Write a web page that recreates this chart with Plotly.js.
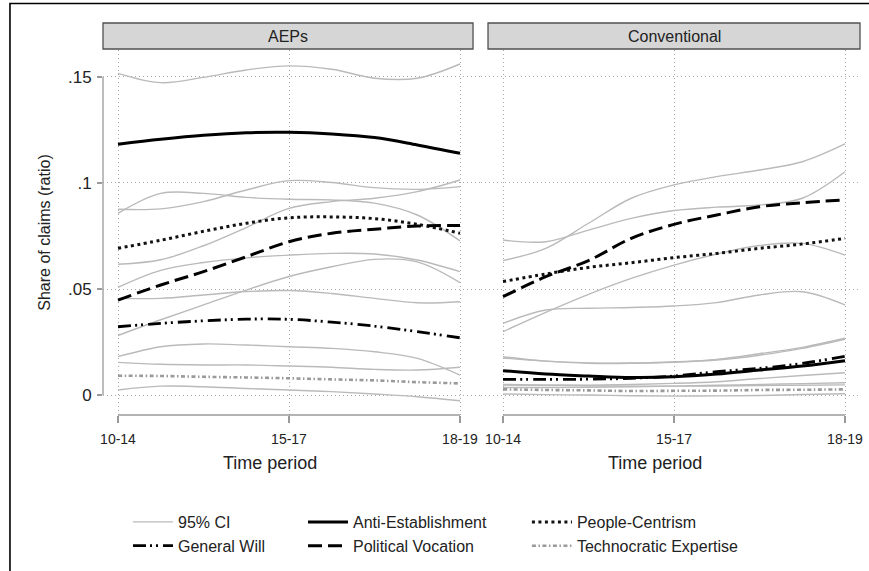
<!DOCTYPE html>
<html>
<head>
<meta charset="utf-8">
<script src="https://cdn.plot.ly/plotly-3.0.1.min.js"></script>
<style>html,body{margin:0;padding:0;background:#fff;}</style>
</head>
<body>
<div id="chart" style="width:869px;height:571px;"></div>
<script>
// ---- data ----
const periods = ["10-14", "15-17", "18-19"];
const periodPos = [0, 1, 2];
const xs = [0, 0.25, 0.5, 0.75, 1, 1.25, 1.5, 1.75, 2];
const panels = ["AEPs", "Conventional"];
const xTitle = "Time period";
const yTitle = "Share of claims (ratio)";
const yTickVals = [0, 0.05, 0.1, 0.15];
const yTickText = ["0", ".05", ".1", ".15"];

// AEPs panel
const aepsAE   = [0.1183, 0.1206, 0.1225, 0.1237, 0.1239, 0.1231, 0.1214, 0.1179, 0.1140];
const aepsAEhi = [0.1517, 0.1473, 0.1498, 0.1533, 0.1552, 0.1536, 0.1494, 0.1494, 0.1561];
const aepsAElo = [0.0857, 0.0951, 0.0951, 0.0932, 0.0923, 0.0920, 0.0905, 0.0849, 0.0727];
const aepsPC   = [0.0692, 0.0730, 0.0772, 0.0810, 0.0836, 0.0840, 0.0832, 0.0805, 0.0763];
const aepsPChi = [0.0876, 0.0878, 0.0912, 0.0967, 0.1011, 0.1002, 0.0978, 0.0970, 0.0983];
const aepsPClo = [0.0508, 0.0588, 0.0625, 0.0647, 0.0660, 0.0668, 0.0665, 0.0637, 0.0582];
const aepsPV   = [0.0448, 0.0519, 0.0582, 0.0652, 0.0723, 0.0763, 0.0782, 0.0797, 0.0799];
const aepsPVhi = [0.0617, 0.0638, 0.0704, 0.0790, 0.0880, 0.0912, 0.0928, 0.0959, 0.1014];
const aepsPVlo = [0.0281, 0.0355, 0.0425, 0.0495, 0.0559, 0.0605, 0.0640, 0.0628, 0.0530];
const aepsGW   = [0.0322, 0.0338, 0.0350, 0.0358, 0.0357, 0.0344, 0.0325, 0.0299, 0.0270];
const aepsGWhi = [0.0456, 0.0456, 0.0472, 0.0488, 0.0493, 0.0479, 0.0456, 0.0435, 0.0440];
const aepsGWlo = [0.0181, 0.0228, 0.0241, 0.0236, 0.0228, 0.0220, 0.0204, 0.0173, 0.0094];
const aepsTE   = [0.0091, 0.0090, 0.0086, 0.0083, 0.0079, 0.0074, 0.0069, 0.0061, 0.0055];
const aepsTEhi = [0.0154, 0.0145, 0.0142, 0.0142, 0.0137, 0.0131, 0.0121, 0.0118, 0.0131];
const aepsTElo = [0.0024, 0.0042, 0.0039, 0.0031, 0.0024, 0.0016, 0.0005, -0.0008, -0.0027];

// Conventional panel
const convAE   = [0.0115, 0.0099, 0.0090, 0.0083, 0.0086, 0.0099, 0.0118, 0.0137, 0.0162];
const convAEhi = [0.0181, 0.0160, 0.0152, 0.0151, 0.0157, 0.0165, 0.0188, 0.0220, 0.0263];
const convAElo = [0.0047, 0.0046, 0.0047, 0.0050, 0.0055, 0.0063, 0.0078, 0.0092, 0.0105];
const convPC   = [0.0535, 0.0571, 0.0602, 0.0624, 0.0648, 0.0668, 0.0692, 0.0712, 0.0739];
const convPChi = [0.0731, 0.0723, 0.0778, 0.0833, 0.0870, 0.0886, 0.0896, 0.0928, 0.1053];
const convPClo = [0.0338, 0.0401, 0.0409, 0.0413, 0.0420, 0.0436, 0.0472, 0.0487, 0.0425];
const convPV   = [0.0464, 0.0558, 0.0634, 0.0739, 0.0805, 0.0849, 0.0888, 0.0907, 0.0920];
const convPVhi = [0.0634, 0.0692, 0.0810, 0.0928, 0.0991, 0.1030, 0.1061, 0.1100, 0.1184];
const convPVlo = [0.0299, 0.0390, 0.0475, 0.0550, 0.0613, 0.0665, 0.0705, 0.0715, 0.0660];
const convGW   = [0.0074, 0.0074, 0.0075, 0.0079, 0.0090, 0.0110, 0.0126, 0.0149, 0.0183];
const convGWhi = [0.0175, 0.0160, 0.0150, 0.0150, 0.0155, 0.0168, 0.0195, 0.0225, 0.0268];
const convGWlo = [0.0036, 0.0036, 0.0037, 0.0039, 0.0042, 0.0046, 0.0050, 0.0054, 0.0058];
const convTE   = [0.0027, 0.0024, 0.0022, 0.0019, 0.0020, 0.0021, 0.0024, 0.0025, 0.0027];
const convTEhi = [0.0050, 0.0047, 0.0044, 0.0042, 0.0042, 0.0043, 0.0045, 0.0046, 0.0048];
const convTElo = [0.0005, 0.0002, 0.0000, -0.0003, -0.0005, -0.0004, -0.0002, 0.0003, 0.0006];

// ---- styles ----
const FONT = "Liberation Sans, Arial, Helvetica, sans-serif";
const TXT = "#222222";
const ciStyle = {color: "#bababa", width: 1.4, dash: "solid"};
const seriesStyles = {
  "Anti-Establishment":   {color: "#000000", width: 3,   dash: "solid", legend: "legend2"},
  "People-Centrism":      {color: "#111111", width: 3,   dash: "3px,3.5px", legend: "legend3"},
  "Political Vocation":   {color: "#000000", width: 3,   dash: "14px,6px", legend: "legend2"},
  "General Will":         {color: "#000000", width: 2.8, dash: "13px,4px,2px,4px,2px,5px", legend: "legend"},
  "Technocratic Expertise": {color: "#9a9a9a", width: 2.6, dash: "4px,2.5px,1.5px,2.5px", legend: "legend3"}
};

const panelData = [
  {xa: "x", ya: "y", series: [
    ["Anti-Establishment", aepsAE, aepsAEhi, aepsAElo],
    ["People-Centrism", aepsPC, aepsPChi, aepsPClo],
    ["Political Vocation", aepsPV, aepsPVhi, aepsPVlo],
    ["General Will", aepsGW, aepsGWhi, aepsGWlo],
    ["Technocratic Expertise", aepsTE, aepsTEhi, aepsTElo]
  ]},
  {xa: "x2", ya: "y2", series: [
    ["Anti-Establishment", convAE, convAEhi, convAElo],
    ["People-Centrism", convPC, convPChi, convPClo],
    ["Political Vocation", convPV, convPVhi, convPVlo],
    ["General Will", convGW, convGWhi, convGWlo],
    ["Technocratic Expertise", convTE, convTEhi, convTElo]
  ]}
];

const traces = [];
let ciShown = false;
// CI lines first (behind)
panelData.forEach(p => {
  p.series.forEach(s => {
    [s[2], s[3]].forEach(ci => {
      traces.push({
        type: "scatter", mode: "lines", x: xs, y: ci, xaxis: p.xa, yaxis: p.ya,
        line: {color: ciStyle.color, width: ciStyle.width, dash: ciStyle.dash, shape: "spline", smoothing: 1},
        name: "95% CI", legend: "legend", showlegend: !ciShown, hoverinfo: "skip"
      });
      ciShown = true;
    });
  });
});
// point estimates
panelData.forEach((p, pi) => {
  p.series.forEach(s => {
    const st = seriesStyles[s[0]];
    traces.push({
      type: "scatter", mode: "lines", x: xs, y: s[1], xaxis: p.xa, yaxis: p.ya,
      line: {color: st.color, width: st.width, dash: st.dash, shape: "spline", smoothing: 1},
      name: s[0], legend: st.legend, showlegend: pi === 0
    });
  });
});

// ---- layout ----
const gridCommon = {showgrid: true, gridcolor: "#a8a8a8", gridwidth: 1, griddash: "1px,3px", zeroline: false, showline: false};
const xCommon = Object.assign({}, gridCommon, {
  tickmode: "array", tickvals: periodPos, ticktext: periods,
  ticks: "outside", ticklen: 7, tickwidth: 1.2, tickcolor: "#9a9a9a",
  tickfont: {family: FONT, size: 14, color: TXT}, ticklabelstandoff: 4
});
const legendCommon = {
  orientation: "v", xanchor: "left", yanchor: "top", yref: "paper", xref: "paper",
  y: -0.2466, itemwidth: 40, bgcolor: "rgba(0,0,0,0)", borderwidth: 0,
  font: {family: FONT, size: 16, color: TXT}, tracegroupgap: 0, traceorder: "normal",
  itemclick: false, itemdoubleclick: false
};

const stripY0 = 1.0027, stripY1 = 1.074;
const titleY = -0.1315;   // x-axis title row, paper units
const titleShift = 0.89;  // Stata centres the title a little left of the middle tick
const layout = {
  width: 869, height: 571,
  margin: {l: 103, r: 9, t: 50, b: 156, autoexpand: false},
  paper_bgcolor: "#ffffff", plot_bgcolor: "#ffffff",
  font: {family: FONT, color: TXT},
  showlegend: true,
  // the two panels touch so the dotted horizontal grid runs across the gap
  xaxis: Object.assign({}, xCommon, {domain: [0, 0.4987], range: [-0.0877, 2.1199], anchor: "y"}),
  xaxis2: Object.assign({}, xCommon, {domain: [0.4987, 1], range: [-0.1316, 2.0877], anchor: "y2"}),
  yaxis: Object.assign({}, gridCommon, {
    domain: [0, 1], range: [-0.0094, 0.1627], anchor: "x",
    tickmode: "array", tickvals: yTickVals, ticktext: yTickText,
    ticks: "outside", ticklen: 5, tickwidth: 1.2, tickcolor: "#9a9a9a",
    tickfont: {family: FONT, size: 17, color: TXT}, ticklabelstandoff: 2,
    title: {text: yTitle, font: {family: FONT, size: 16, color: TXT}, standoff: 13}
  }),
  yaxis2: Object.assign({}, gridCommon, {
    domain: [0, 1], range: [-0.0094, 0.1627], anchor: "x2", matches: "y",
    tickmode: "array", tickvals: yTickVals, showticklabels: false, ticks: ""
  }),
  legend: Object.assign({}, legendCommon, {x: 0.033}),
  legend2: Object.assign({}, legendCommon, {x: 0.2642}),
  legend3: Object.assign({}, legendCommon, {x: 0.560}),
  shapes: [
    // outer frame
    {type: "rect", xref: "paper", yref: "paper", x0: -0.1229, x1: 1.05, y0: -0.6, y1: 1.1275,
     line: {color: "#000000", width: 1.6}, fillcolor: "rgba(0,0,0,0)"},
    // panel strips
    {type: "rect", xref: "paper", yref: "paper", x0: 0, x1: 0.4888, y0: stripY0, y1: stripY1,
     line: {color: "#505050", width: 1.3}, fillcolor: "#d6d6d6"},
    {type: "rect", xref: "paper", yref: "paper", x0: 0.5086, x1: 1, y0: stripY0, y1: stripY1,
     line: {color: "#505050", width: 1.3}, fillcolor: "#d6d6d6"},
    // axis lines spanning only the labelled range
    {type: "line", xref: "paper", yref: "y", x0: 0, x1: 0, y0: yTickVals[0], y1: yTickVals[yTickVals.length - 1],
     line: {color: "#9a9a9a", width: 1.3}},
    {type: "line", xref: "x", yref: "paper", x0: periodPos[0], x1: periodPos[2], y0: 0, y1: 0,
     line: {color: "#9a9a9a", width: 1.3}},
    {type: "line", xref: "x2", yref: "paper", x0: periodPos[0], x1: periodPos[2], y0: 0, y1: 0,
     line: {color: "#9a9a9a", width: 1.3}}
  ],
  annotations: [
    {text: panels[0], xref: "paper", yref: "paper", x: 0.2444, y: (stripY0 + stripY1) / 2,
     xanchor: "center", yanchor: "middle", showarrow: false, font: {family: FONT, size: 16, color: TXT}},
    {text: panels[1], xref: "paper", yref: "paper", x: 0.7543, y: (stripY0 + stripY1) / 2,
     xanchor: "center", yanchor: "middle", showarrow: false, font: {family: FONT, size: 16, color: TXT}},
    {text: xTitle, xref: "x", yref: "paper", x: titleShift, y: titleY,
     xanchor: "center", yanchor: "middle", showarrow: false, font: {family: FONT, size: 18, color: TXT}},
    {text: xTitle, xref: "x2", yref: "paper", x: titleShift, y: titleY,
     xanchor: "center", yanchor: "middle", showarrow: false, font: {family: FONT, size: 18, color: TXT}}
  ]
};

Plotly.newPlot("chart", traces, layout, {staticPlot: true, displayModeBar: false});
</script>
</body>
</html>
